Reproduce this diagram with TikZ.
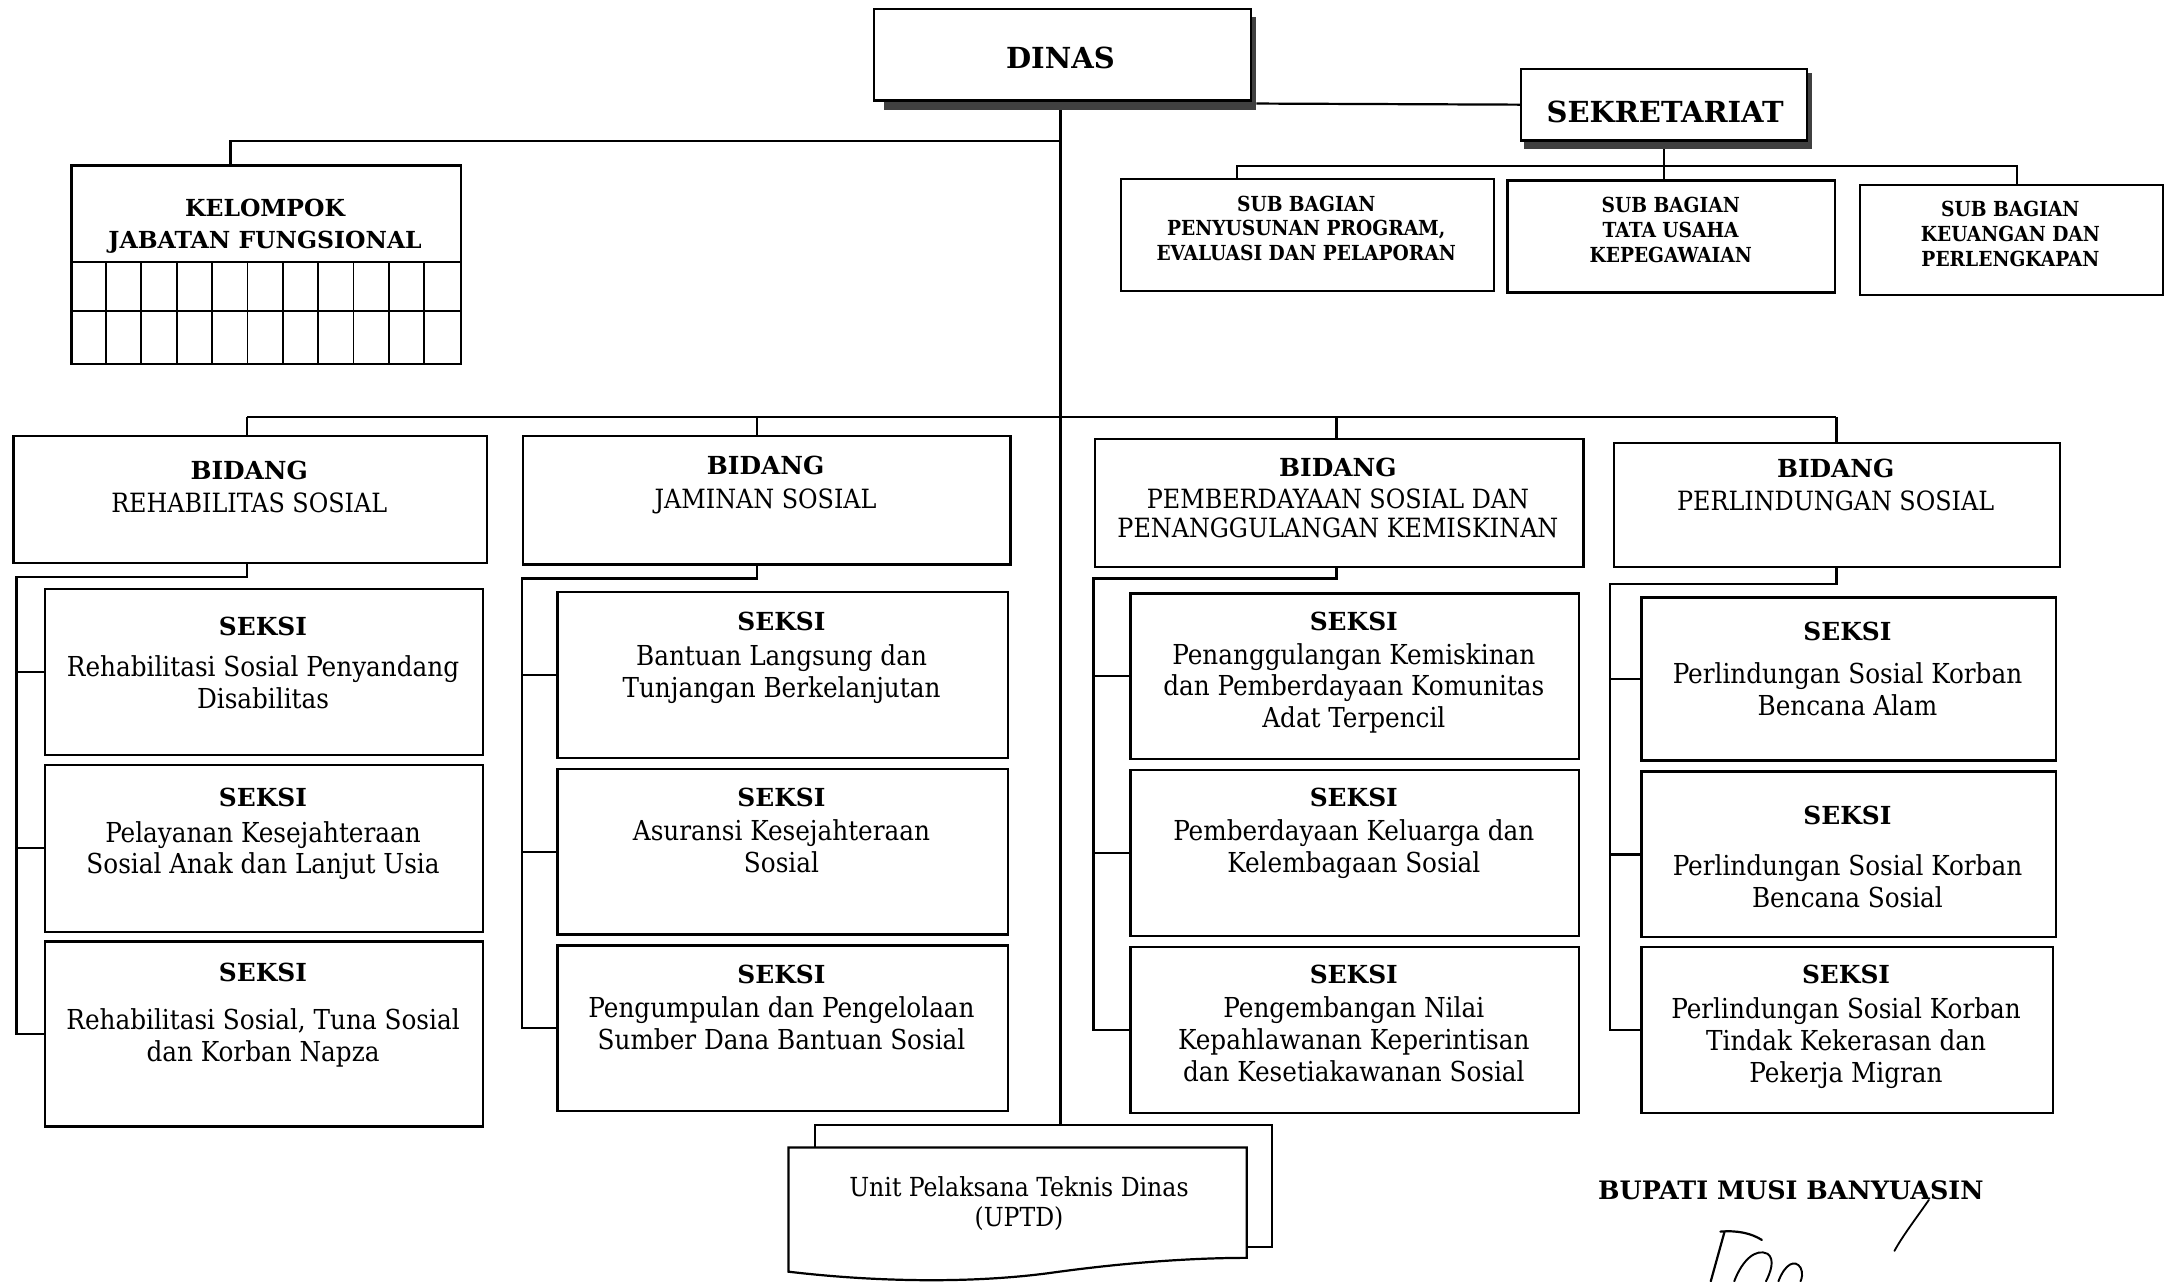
\documentclass[tikz,border=0pt]{standalone}
\usepackage{fontspec}
\setmainfont{DejaVu Serif Condensed}[BoldFont={DejaVu Serif Condensed Bold}]
\newfontfamily\wb{DejaVu Serif}[BoldFont={DejaVu Serif Bold}]
\newcommand\hd[1]{{\wb\bfseries\fontsize{18}{23}\selectfont #1}}
\tikzset{
  bx/.style={draw, line width=1.6pt, inner sep=0pt, anchor=north west, fill=white},
  ln/.style={line width=1.6pt},
  shd/.style={fill=black!75, draw=none},
  seks/.style={align=center, font=\fontsize{19.9}{23}\selectfont, inner sep=0pt, anchor=north},
  bid/.style={align=center, font=\fontsize{19.2}{21}\selectfont, inner sep=0pt, anchor=north},
  sub/.style={align=center, font=\bfseries\fontsize{15}{18}\selectfont, inner sep=0pt, anchor=north},
}
\newcommand\sekbox[5]{\node[seks] (#1) at (#2,#3-6.6) {\hd{SEKSI}\\[#4pt] #5};}
\newcommand\bidbox[5]{\node[bid] (#1) at (#2,#3-6.6) {\hd{BIDANG}\\[#4pt] #5};}
\begin{document}
\begin{tikzpicture}[x=1pt,y=-1pt]
\useasboundingbox (0,0) rectangle (1568,928);
% ---------- top ----------
\fill[shd] (640,72) rectangle (910,80);
\fill[shd] (905,12) rectangle (910,80);
\node[bx, minimum width=273, minimum height=66] (dinas) at (632,6) {};
\node[inner sep=0pt, font=\wb\bfseries\fontsize{21}{25}\selectfont] (dinast) at (768,42) {DINAS};
\fill[shd] (1104,101) rectangle (1312,108);
\fill[shd] (1308,53) rectangle (1312,108);
\node[bx, minimum width=207, minimum height=52] (sek) at (1101,49) {};
\node[inner sep=0pt, font=\wb\bfseries\fontsize{21}{25}\selectfont] (sekt) at (1206,81) {SEKRETARIAT};
% main line
\coordinate (uptdtop) at (768,815);
\draw[ln] (768,80) -- (uptdtop);
\draw[ln] (sek.west) -- (910,75);
% kelompok
\node[bx, minimum width=282, minimum height=144] (kel) at (51,119) {};
\coordinate (kj) at (167,102);
\draw[ln] (768,102) -- (kj) -- (kj |- kel.north);
\node[align=center, inner sep=0pt, anchor=north, font=\wb\bfseries\fontsize{17}{23}\selectfont] (kelt) at (192,150-6.2) {KELOMPOK\\JABATAN FUNGSIONAL};
\draw[line width=1.3pt] (51,190) -- (333,190) (51,225) -- (333,225);
\foreach \i in {1,...,10} \draw[line width=1.3pt] (51+\i*25.636,190) -- (51+\i*25.636,263);
% sub bagian
\node[bx, minimum width=270, minimum height=81] (sb1) at (811,129) {};
\node[bx, minimum width=237, minimum height=81] (sb2) at (1091,130) {};
\node[bx, minimum width=220, minimum height=80] (sb3) at (1346,133) {};
\coordinate (sbj1) at (896,120);
\coordinate (sbj2) at (1205,120);
\coordinate (sbj3) at (1461,120);
\draw[ln] (1205,108) -- (sbj2);
\draw[ln] (sbj1 |- sb1.north) -- (sbj1) -- (sbj3) -- (sbj3 |- sb3.north);
\draw[ln] (sbj2) -- (sbj2 |- sb2.north);
\node[sub] (sb1t) at (946,147-5.5) {SUB BAGIAN\\PENYUSUNAN PROGRAM,\\EVALUASI DAN PELAPORAN};
\node[sub] (sb2t) at (1210,148-5.5) {SUB BAGIAN\\TATA USAHA\\KEPEGAWAIAN};
\node[sub] (sb3t) at (1456,151-5.5) {SUB BAGIAN\\KEUANGAN DAN\\PERLENGKAPAN};
% ---------- bidang ----------
\node[bx, minimum width=343, minimum height=92] (b1) at (9,315) {};
\node[bx, minimum width=353, minimum height=93] (b2) at (378,315) {};
\node[bx, minimum width=354, minimum height=93] (b3) at (792,317) {};
\node[bx, minimum width=323, minimum height=90] (b4) at (1168,320) {};
\coordinate (bj1) at (179,302);
\coordinate (bj2) at (548,302);
\coordinate (bj3) at (968,302);
\coordinate (bj4) at (1330,302);
\draw[ln] (bj1) -- (bj4);
\draw[ln] (bj1) -- (bj1 |- b1.north);
\draw[ln] (bj2) -- (bj2 |- b2.north);
\draw[ln] (bj3) -- (bj3 |- b3.north);
\draw[ln] (bj4) -- (bj4 |- b4.north);
\bidbox{b1t}{180.5}{340}{3}{REHABILITAS SOSIAL}
\bidbox{b2t}{554.5}{337}{3}{JAMINAN SOSIAL}
\bidbox{b3t}{969}{338}{2}{PEMBERDAYAAN SOSIAL DAN\\PENANGGULANGAN KEMISKINAN}
\bidbox{b4t}{1329.5}{339}{3}{PERLINDUNGAN SOSIAL}
% ---------- seksi boxes ----------
\node[bx, minimum width=317, minimum height=120] (s11) at (32,426) {};
\node[bx, minimum width=317, minimum height=121] (s12) at (32,553) {};
\node[bx, minimum width=317, minimum height=134] (s13) at (32,681) {};
\node[bx, minimum width=326, minimum height=120] (s21) at (403,428) {};
\node[bx, minimum width=326, minimum height=120] (s22) at (403,556) {};
\node[bx, minimum width=326, minimum height=120] (s23) at (403,684) {};
\node[bx, minimum width=325, minimum height=120] (s31) at (818,429) {};
\node[bx, minimum width=325, minimum height=120] (s32) at (818,557) {};
\node[bx, minimum width=325, minimum height=120] (s33) at (818,685) {};
\node[bx, minimum width=300, minimum height=118] (s41) at (1188,432) {};
\node[bx, minimum width=300, minimum height=120] (s42) at (1188,558) {};
\node[bx, minimum width=298, minimum height=120] (s43) at (1188,685) {};
% spines
\coordinate (sp1) at (12,418);
\coordinate (sp2) at (378,419);
\coordinate (sp3) at (792,419);
\coordinate (sp4) at (1166,423);
\draw[ln] (b1.south -| bj1) |- (sp1) |- (s13.west);
\draw[ln] (sp1 |- s11.west) -- (s11.west);
\draw[ln] (sp1 |- s12.west) -- (s12.west);
\draw[ln] (b2.south -| bj2) |- (sp2) |- (s23.west);
\draw[ln] (sp2 |- s21.west) -- (s21.west);
\draw[ln] (sp2 |- s22.west) -- (s22.west);
\draw[ln] (b3.south -| bj3) |- (sp3) |- (s33.west);
\draw[ln] (sp3 |- s31.west) -- (s31.west);
\draw[ln] (sp3 |- s32.west) -- (s32.west);
\draw[ln] (b4.south -| bj4) |- (sp4) |- (s43.west);
\draw[ln] (sp4 |- s41.west) -- (s41.west);
\draw[ln] (sp4 |- s42.west) -- (s42.west);
% seksi texts
\sekbox{s11t}{190.5}{453}{7}{Rehabilitasi Sosial Penyandang\\Disabilitas}
\sekbox{s12t}{190.5}{577}{3}{Pelayanan Kesejahteraan\\Sosial Anak dan Lanjut Usia}
\sekbox{s13t}{190.5}{704}{12}{Rehabilitasi Sosial, Tuna Sosial\\dan Korban Napza}
\sekbox{s21t}{566}{450}{2}{Bantuan Langsung dan\\Tunjangan Berkelanjutan}
\sekbox{s22t}{566}{577}{2}{Asuransi Kesejahteraan\\Sosial}
\sekbox{s23t}{566}{705}{2}{Pengumpulan dan Pengelolaan\\Sumber Dana Bantuan Sosial}
\sekbox{s31t}{980.5}{450}{1}{Penanggulangan Kemiskinan\\dan Pemberdayaan Komunitas\\Adat Terpencil}
\sekbox{s32t}{980.5}{577}{2}{Pemberdayaan Keluarga dan\\Kelembagaan Sosial}
\sekbox{s33t}{980.5}{705}{2}{Pengembangan Nilai\\Kepahlawanan Keperintisan\\dan Kesetiakawanan Sosial}
\sekbox{s41t}{1338}{457}{8}{Perlindungan Sosial Korban\\Bencana Alam}
\sekbox{s42t}{1338}{590}{14}{Perlindungan Sosial Korban\\Bencana Sosial}
\sekbox{s43t}{1337}{705}{3}{Perlindungan Sosial Korban\\Tindak Kekerasan dan\\Pekerja Migran}
% ---------- UPTD ----------
\draw[ln] (590,831) -- (590,815) -- (uptdtop) -- (921,815) -- (921,903) -- (903,903);
\draw[ln, fill=white] (571,831) -- (903,831) -- (903,911)
  .. controls (860,911) and (810,915) .. (760,922)
  .. controls (700,930) and (630,928) .. (571,921) -- cycle;
\node[align=center, inner sep=0pt, anchor=north, font=\fontsize{19}{22}\selectfont] (uptd) at (738,852) {Unit Pelaksana Teknis Dinas\\(UPTD)};
% ---------- signature block ----------
\node[inner sep=0pt, font=\wb\bfseries\fontsize{18.4}{22}\selectfont] (bupati) at (1297,862) {BUPATI MUSI BANYUASIN};
\draw[line width=1.3pt, line cap=round] (1397,869) .. controls (1388,882) and (1378,895) .. (1372,906);
\draw[line width=1.6pt, line cap=round] (1249,892) -- (1239,928);
\draw[line width=1.6pt, line cap=round] (1246,892) .. controls (1258,891) and (1268,893) .. (1276,898);
\draw[line width=1.4pt, line cap=round] (1256,928) .. controls (1262,912) and (1272,904) .. (1280,908) .. controls (1286,912) and (1282,922) .. (1279,928);
\draw[line width=1.4pt, line cap=round] (1288,928) .. controls (1293,915) and (1300,912) .. (1304,918) .. controls (1306,922) and (1305,926) .. (1304,928);
\end{tikzpicture}
\end{document}
